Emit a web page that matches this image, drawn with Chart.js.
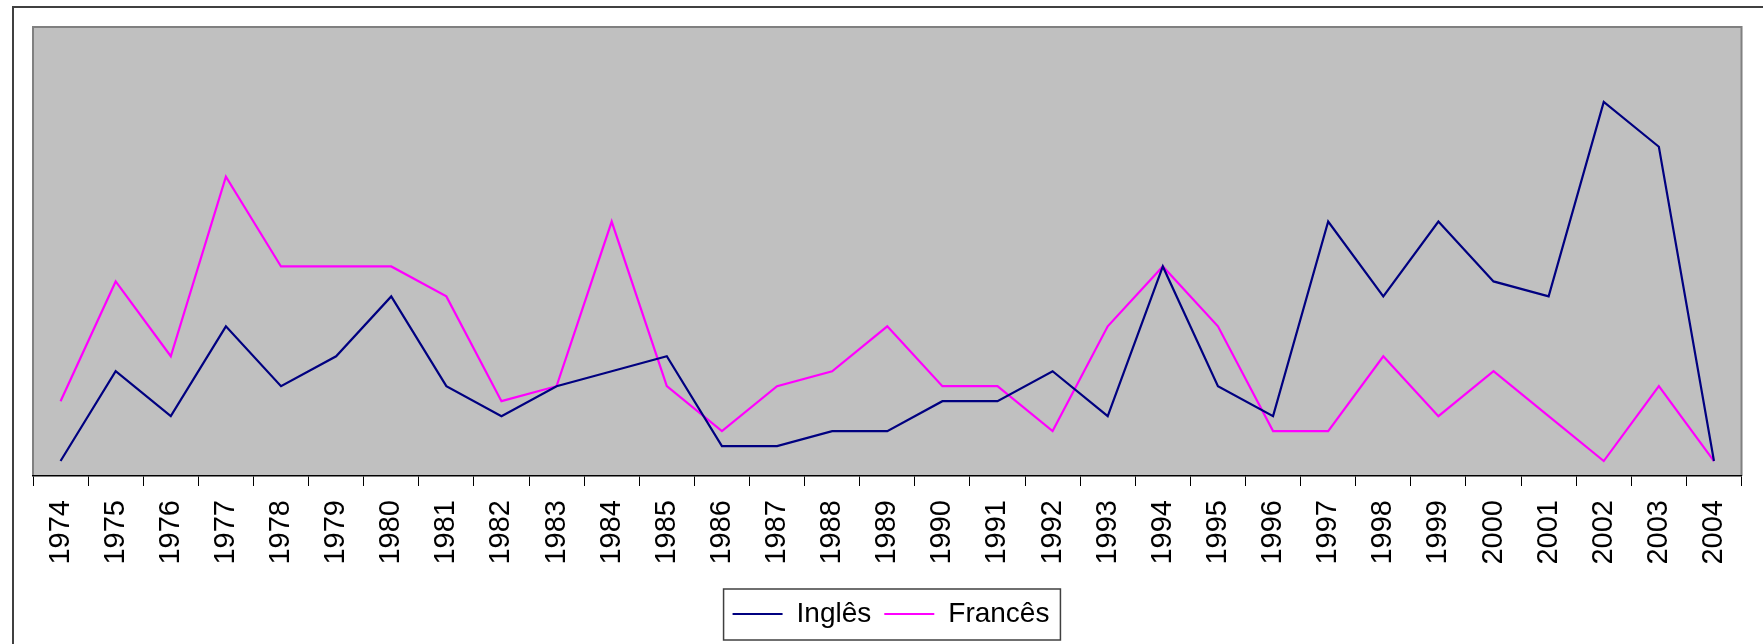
<!DOCTYPE html>
<html>
<head>
<meta charset="utf-8">
<script src="https://cdn.jsdelivr.net/npm/chart.js@4"></script>
<style>
  html, body { margin: 0; padding: 0; background: #fff; }
  #wrap { width: 1763px; height: 644px; }
</style>
</head>
<body>
<div id="wrap"><canvas id="c" width="1763" height="644"></canvas></div>
<script>
const years = ['1974','1975','1976','1977','1978','1979','1980','1981','1982','1983','1984','1985','1986','1987','1988','1989','1990','1991','1992','1993','1994','1995','1996','1997','1998','1999','2000','2001','2002','2003','2004'];
const ingles = [1,7,4,10,6,8,12,6,4,6,7,8,2,2,3,3,5,5,7,4,14,6,4,17,12,17,13,12,25,22,1];
const frances = [5,13,8,20,14,14,14,12,5,6,17,6,3,6,7,10,6,6,3,10,14,10,3,3,8,4,7,4,1,6,1];
const seriesNames = ['Inglês', 'Francês'];
const yMin = 0;
const yMax = 30;

const FONT = "'Liberation Sans', Arial, sans-serif";

const framePlugin = {
  id: 'frame',
  beforeDraw(chart) {
    const { ctx, chartArea: a } = chart;
    ctx.save();
    ctx.fillStyle = '#ffffff';
    ctx.fillRect(0, 0, chart.width, chart.height);
    // outer chart border (left + top only visible)
    ctx.strokeStyle = '#404040';
    ctx.lineWidth = 2;
    ctx.beginPath();
    ctx.moveTo(13, chart.height + 2);
    ctx.lineTo(13, 7);
    ctx.lineTo(chart.width + 2, 7);
    ctx.stroke();
    // plot area
    ctx.fillStyle = '#C0C0C0';
    ctx.fillRect(a.left, a.top, a.right - a.left, a.bottom - a.top);
    ctx.strokeStyle = '#808080';
    ctx.lineWidth = 2;
    ctx.beginPath();
    ctx.moveTo(a.left, a.bottom);
    ctx.lineTo(a.left, a.top);
    ctx.lineTo(a.right, a.top);
    ctx.lineTo(a.right, a.bottom);
    ctx.stroke();
    ctx.restore();
  },
  afterDraw(chart) {
    const lg = chart.legend;
    if (!lg || !lg.legendHitBoxes || !lg.legendHitBoxes.length) return;
    const hb = lg.legendHitBoxes;
    const first = hb[0], last = hb[hb.length - 1];
    const left = first.left - 9;
    const right = last.left + last.width + 11;
    const top = first.top - 11;
    const bottom = first.top + first.height + 12;
    const { ctx } = chart;
    ctx.save();
    ctx.strokeStyle = '#404040';
    ctx.lineWidth = 1.5;
    ctx.strokeRect(left, top, right - left, bottom - top);
    ctx.restore();
  }
};

new Chart(document.getElementById('c'), {
  type: 'line',
  data: {
    labels: years,
    datasets: [
      { label: seriesNames[0], data: ingles, borderColor: '#000080', backgroundColor: '#000080', borderWidth: 2.2, pointRadius: 0, tension: 0, fill: false },
      { label: seriesNames[1], data: frances, borderColor: '#FF00FF', backgroundColor: '#FF00FF', borderWidth: 2.2, pointRadius: 0, tension: 0, fill: false }
    ]
  },
  options: {
    responsive: false,
    animation: false,
    events: [],
    layout: { padding: { left: 33, right: 14, top: 27, bottom: 6 } },
    scales: {
      x: {
        type: 'category',
        offset: true,
        grid: { offset: true, drawOnChartArea: false, drawTicks: true, tickLength: 10, color: '#000000', lineWidth: 1 },
        border: { display: true, color: '#000000', width: 1.5 },
        ticks: { minRotation: 90, maxRotation: 90, autoSkip: false, padding: 14, color: '#000000', font: { family: FONT, size: 29 } },
        afterFit(scale) { scale.height = 111; }
      },
      y: {
        display: false,
        min: yMin,
        max: yMax
      }
    },
    plugins: {
      tooltip: { enabled: false },
      legend: {
        position: 'bottom',
        labels: {
          usePointStyle: true,
          pointStyle: 'line',
          pointStyleWidth: 50,
          padding: 13,
          color: '#000000',
          font: { family: FONT, size: 28 }
        }
      }
    }
  },
  plugins: [framePlugin]
});
</script>
</body>
</html>
